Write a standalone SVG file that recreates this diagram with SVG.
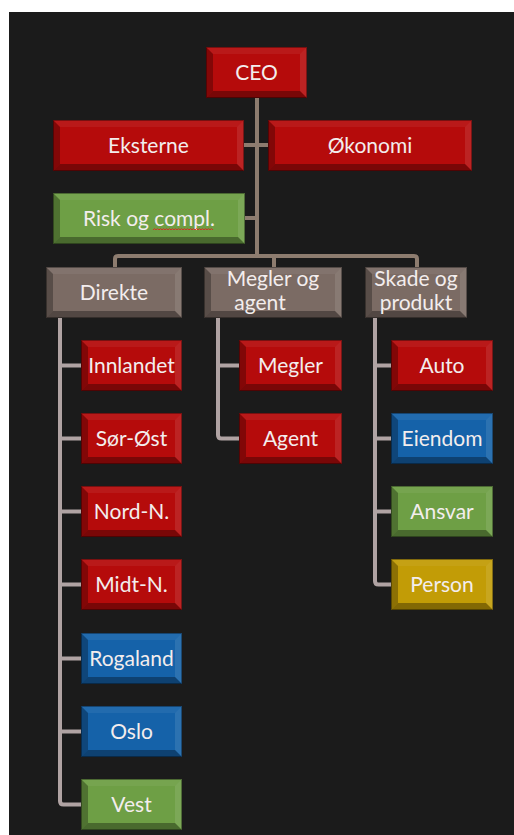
<svg xmlns="http://www.w3.org/2000/svg" xmlns:xlink="http://www.w3.org/1999/xlink" width="514" height="835" viewBox="0 0 514 835">
<style>
.red{fill:#b50b0b}
.tau{fill:#7b6b64}
.grn{fill:#6e9f45}
.blu{fill:#1562a9}
.yel{fill:#c29c06}
.hl{fill:#ffffff;fill-opacity:0.06}
.hr{fill:#ffffff;fill-opacity:0.1}
.sl{fill:#000000;fill-opacity:0.28}
.sb{fill:#000000;fill-opacity:0.33}
.bd{fill:none;stroke:#000000;stroke-opacity:0.35;stroke-width:1}
text{font-family:Lato,"Open Sans","Liberation Sans",sans-serif;font-size:21px;fill:#f3eded;text-anchor:middle}
.top{fill:none;stroke:#8d7c6f;stroke-width:4}
.sub{fill:none;stroke:#b0a3a3;stroke-width:4}
</style>
<defs>
<g id="b101"><path class="hl" d="M0,0H101L94,7H7Z"/><path class="hr" d="M101,0V51L94,44V7Z"/><path class="sb" d="M0,51H101L94,44H7Z"/><path class="sl" d="M0,0L7,7V44L0,51Z"/><rect class="bd" x="0.5" y="0.5" width="100" height="50"/></g>
<g id="b102"><path class="hl" d="M0,0H102L95,7H7Z"/><path class="hr" d="M102,0V51L95,44V7Z"/><path class="sb" d="M0,51H102L95,44H7Z"/><path class="sl" d="M0,0L7,7V44L0,51Z"/><rect class="bd" x="0.5" y="0.5" width="101" height="50"/></g>
<g id="b103"><path class="hl" d="M0,0H103L96,7H7Z"/><path class="hr" d="M103,0V51L96,44V7Z"/><path class="sb" d="M0,51H103L96,44H7Z"/><path class="sl" d="M0,0L7,7V44L0,51Z"/><rect class="bd" x="0.5" y="0.5" width="102" height="50"/></g>
<g id="b136"><path class="hl" d="M0,0H136L129,7H7Z"/><path class="hr" d="M136,0V51L129,44V7Z"/><path class="sb" d="M0,51H136L129,44H7Z"/><path class="sl" d="M0,0L7,7V44L0,51Z"/><rect class="bd" x="0.5" y="0.5" width="135" height="50"/></g>
<g id="b138"><path class="hl" d="M0,0H138L131,7H7Z"/><path class="hr" d="M138,0V51L131,44V7Z"/><path class="sb" d="M0,51H138L131,44H7Z"/><path class="sl" d="M0,0L7,7V44L0,51Z"/><rect class="bd" x="0.5" y="0.5" width="137" height="50"/></g>
<g id="b191"><path class="hl" d="M0,0H191L184,7H7Z"/><path class="hr" d="M191,0V51L184,44V7Z"/><path class="sb" d="M0,51H191L184,44H7Z"/><path class="sl" d="M0,0L7,7V44L0,51Z"/><rect class="bd" x="0.5" y="0.5" width="190" height="50"/></g>
<g id="b192"><path class="hl" d="M0,0H192L185,7H7Z"/><path class="hr" d="M192,0V51L185,44V7Z"/><path class="sb" d="M0,51H192L185,44H7Z"/><path class="sl" d="M0,0L7,7V44L0,51Z"/><rect class="bd" x="0.5" y="0.5" width="191" height="50"/></g>
<g id="b204"><path class="hl" d="M0,0H204L197,7H7Z"/><path class="hr" d="M204,0V51L197,44V7Z"/><path class="sb" d="M0,51H204L197,44H7Z"/><path class="sl" d="M0,0L7,7V44L0,51Z"/><rect class="bd" x="0.5" y="0.5" width="203" height="50"/></g>
</defs>
<rect x="0" y="0" width="514" height="835" fill="#ffffff"/>
<rect x="9" y="12" width="505" height="823" fill="#1b1b1b"/>
<g id="connectors">
<path class="top" d="M257,98V256"/>
<path class="top" d="M244,145H268"/>
<path class="top" d="M245,218H257"/>
<path class="top" d="M115,267V259Q115,256 118,256H414Q417,256 417,259V267"/>
<path class="top" d="M274,256V267"/>
<path class="sub" d="M60,318V801Q60,804.5 63.5,804.5H81"/>
<path class="sub" d="M60,365.5H81M60,438.5H81M60,511.5H81M60,584.5H81M60,658.5H81M60,731.5H81"/>
<path class="sub" d="M218,318V435Q218,438.5 221.5,438.5H239"/>
<path class="sub" d="M218,365.5H239"/>
<path class="sub" d="M375,318V581Q375,584.5 378.5,584.5H391"/>
<path class="sub" d="M375,365.5H391M375,438.5H391M375,511.5H391"/>
</g>
<g id="ceo" transform="translate(206,47)"><rect class="red" width="101" height="51"/><use href="#b101"/><text x="50.5" y="32.5">CEO</text></g>
<g id="eksterne" transform="translate(53,120)"><rect class="red" width="191" height="51"/><use href="#b191"/><text x="95.5" y="32.5">Eksterne</text></g>
<g id="okonomi" transform="translate(268,120)"><rect class="red" width="204" height="51"/><use href="#b204"/><text x="102" y="32.5">Økonomi</text></g>
<g id="risk" transform="translate(53,193)"><rect class="grn" width="192" height="51"/><use href="#b192"/><text x="96" y="32.5">Risk og compl.</text><path d="M100,37l1.5,-1.5l1.5,1.5l1.5,-1.5l1.5,1.5l1.5,-1.5l1.5,1.5l1.5,-1.5l1.5,1.5l1.5,-1.5l1.5,1.5l1.5,-1.5l1.5,1.5l1.5,-1.5l1.5,1.5l1.5,-1.5l1.5,1.5l1.5,-1.5l1.5,1.5l1.5,-1.5l1.5,1.5l1.5,-1.5l1.5,1.5l1.5,-1.5l1.5,1.5l1.5,-1.5l1.5,1.5l1.5,-1.5l1.5,1.5l1.5,-1.5l1.5,1.5l1.5,-1.5l1.5,1.5l1.5,-1.5l1.5,1.5l1.5,-1.5l1.5,1.5l1.5,-1.5l1.5,1.5l1.5,-1.5l1.5,1.5" fill="none" stroke="#e02020" stroke-width="0.9"/></g>
<g id="direkte" transform="translate(46,267)"><rect class="tau" width="136" height="51"/><use href="#b136"/><text x="68" y="32.5">Direkte</text></g>
<g id="megler-og-agent" transform="translate(204,267)"><rect class="tau" width="138" height="51"/><use href="#b138"/><text x="69" y="19">Megler og</text><text x="56" y="43">agent</text></g>
<g id="skade-og-produkt" transform="translate(365,267)"><rect class="tau" width="102" height="51"/><use href="#b102"/><text x="51" y="19">Skade og</text><text x="51" y="43">produkt</text></g>
<g id="innlandet" transform="translate(81,340)"><rect class="red" width="101" height="51"/><use href="#b101"/><text x="50.5" y="32.5">Innlandet</text></g>
<g id="sor-ost" transform="translate(81,413)"><rect class="red" width="101" height="51"/><use href="#b101"/><text x="50.5" y="32.5">Sør-Øst</text></g>
<g id="nord-n" transform="translate(81,486)"><rect class="red" width="101" height="51"/><use href="#b101"/><text x="50.5" y="32.5">Nord-N.</text></g>
<g id="midt-n" transform="translate(81,559)"><rect class="red" width="101" height="51"/><use href="#b101"/><text x="50.5" y="32.5">Midt-N.</text></g>
<g id="rogaland" transform="translate(81,633)"><rect class="blu" width="101" height="51"/><use href="#b101"/><text x="50.5" y="32.5">Rogaland</text></g>
<g id="oslo" transform="translate(81,706)"><rect class="blu" width="101" height="51"/><use href="#b101"/><text x="50.5" y="32.5">Oslo</text></g>
<g id="vest" transform="translate(81,779)"><rect class="grn" width="101" height="51"/><use href="#b101"/><text x="50.5" y="32.5">Vest</text></g>
<g id="megler" transform="translate(239,340)"><rect class="red" width="103" height="51"/><use href="#b103"/><text x="51.5" y="32.5">Megler</text></g>
<g id="agent" transform="translate(239,413)"><rect class="red" width="103" height="51"/><use href="#b103"/><text x="51.5" y="32.5">Agent</text></g>
<g id="auto" transform="translate(391,340)"><rect class="red" width="102" height="51"/><use href="#b102"/><text x="51" y="32.5">Auto</text></g>
<g id="eiendom" transform="translate(391,413)"><rect class="blu" width="102" height="51"/><use href="#b102"/><text x="51" y="32.5">Eiendom</text></g>
<g id="ansvar" transform="translate(391,486)"><rect class="grn" width="102" height="51"/><use href="#b102"/><text x="51" y="32.5">Ansvar</text></g>
<g id="person" transform="translate(391,559)"><rect class="yel" width="102" height="51"/><use href="#b102"/><text x="51" y="32.5">Person</text></g>
</svg>
